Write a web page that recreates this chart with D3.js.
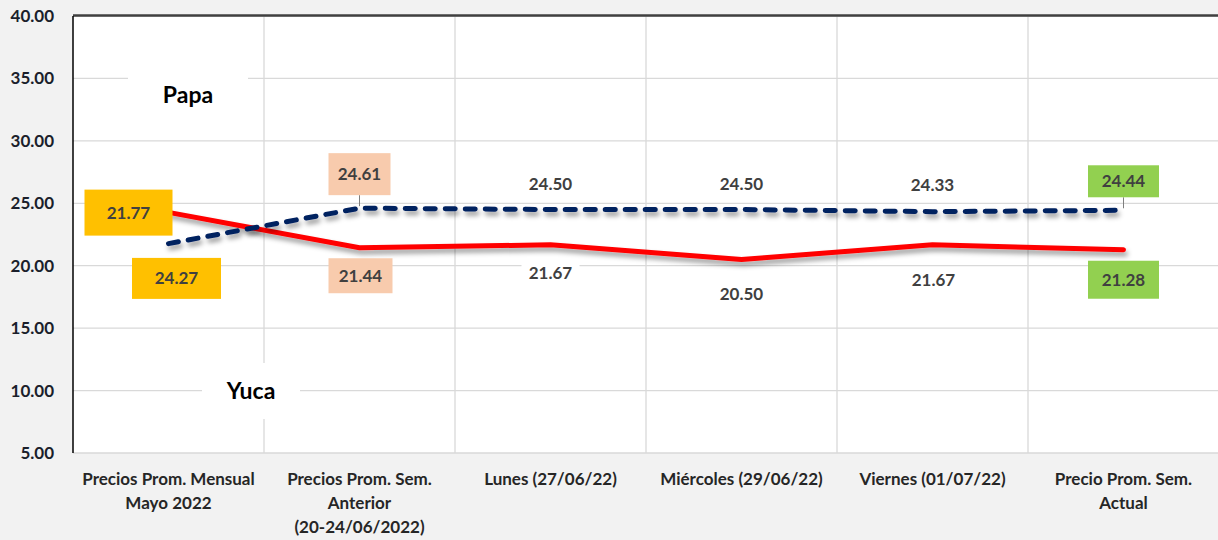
<!DOCTYPE html>
<html>
<head>
<meta charset="utf-8">
<script src="https://cdn.jsdelivr.net/npm/d3@7"></script>
<style>
  html, body { margin: 0; padding: 0; background: #f2f2f2; }
  svg { display: block; }
</style>
</head>
<body>
<div id="area"></div>
<script>
// categorias del eje x (cada una en lineas)
var categories = [
    ["Precios Prom. Mensual", "Mayo 2022"],
    ["Precios Prom. Sem.", "Anterior", "(20-24/06/2022)"],
    ["Lunes  (27/06/22)"],
    ["Miércoles  (29/06/22)"],
    ["Viernes  (01/07/22)"],
    ["Precio Prom. Sem.", "Actual"]
];
var papa = [21.77, 24.61, 24.50, 24.50, 24.33, 24.44];
var yuca = [24.27, 21.44, 21.67, 20.50, 21.67, 21.28];
var yTicks = [5, 10, 15, 20, 25, 30, 35, 40];
var boxColors = ["#FFC000", "#F8CBAD", null, null, null, "#92D050"];

var width = 1218, height = 540;
var margin = { top: 16, right: -1, bottom: 87, left: 73 };

var svg = d3.select("#area")
    .append("svg")
    .attr("width", width)
    .attr("height", height);

var defs = svg.append("defs");
var f = defs.append("filter").attr("id", "sombra")
    .attr("x", "-5%").attr("y", "-50%").attr("width", "110%").attr("height", "200%");
f.append("feDropShadow")
    .attr("dx", 2).attr("dy", 4).attr("stdDeviation", 2.5)
    .attr("flood-color", "#000").attr("flood-opacity", 0.4);

var x = d3.scaleBand()
    .domain(d3.range(categories.length))
    .range([margin.left, width - margin.right])
    .padding(0);
var y = d3.scaleLinear()
    .domain([5, 40])
    .range([height - margin.bottom, margin.top]);

// area del grafico
svg.append("rect")
    .attr("x", margin.left).attr("y", margin.top)
    .attr("width", width - margin.right - margin.left)
    .attr("height", y(5) - margin.top)
    .attr("fill", "#fff");

// lineas de cuadricula
svg.append("g")
    .selectAll("line")
    .data(yTicks)
    .join("line")
    .attr("x1", margin.left).attr("x2", width)
    .attr("y1", d => y(d)).attr("y2", d => y(d))
    .attr("stroke", "#d9d9d9").attr("stroke-width", 1.3);
svg.append("g")
    .selectAll("line")
    .data(d3.range(1, categories.length))
    .join("line")
    .attr("x1", d => x(d)).attr("x2", d => x(d))
    .attr("y1", margin.top).attr("y2", y(5))
    .attr("stroke", "#d9d9d9").attr("stroke-width", 1.3);

// borde superior y eje izquierdo
svg.append("line")
    .attr("x1", margin.left).attr("x2", width)
    .attr("y1", margin.top - 0.5).attr("y2", margin.top - 0.5)
    .attr("stroke", "#404040").attr("stroke-width", 2.5);
svg.append("line")
    .attr("x1", margin.left).attr("x2", margin.left)
    .attr("y1", margin.top).attr("y2", y(5))
    .attr("stroke", "#000").attr("stroke-width", 1.5);

// etiquetas eje y
svg.append("g")
    .selectAll("text")
    .data(yTicks)
    .join("text")
    .attr("x", 54)
    .attr("y", d => y(d) + 6)
    .attr("text-anchor", "end")
    .attr("font-family", "Lato, sans-serif")
    .attr("font-weight", "bold")
    .attr("font-size", 17)
    .attr("fill", "#1b1f2b")
    .text(d => d3.format(".2f")(d));

// etiquetas eje x
var xl = svg.append("g")
    .selectAll("text")
    .data(categories)
    .join("text")
    .attr("text-anchor", "middle")
    .attr("font-family", "Lato, sans-serif")
    .attr("font-weight", "bold")
    .attr("font-size", 17)
    .attr("fill", "#262626");
xl.each(function (lines, i) {
    d3.select(this).selectAll("tspan")
        .data(lines)
        .join("tspan")
        .attr("x", x(i) + x.bandwidth() / 2)
        .attr("y", (d, j) => 485 + j * 24)
        .text(d => d);
});

// nombres Papa / Yuca con fondo blanco
var names = [
    { t: "Papa", cx: 188, cy: 95, w: 120, h: 36 },
    { t: "Yuca", cx: 251, cy: 391, w: 98, h: 56 }
];
names.forEach(function (n) {
    svg.append("rect")
        .attr("x", n.cx - n.w / 2).attr("y", n.cy - n.h / 2)
        .attr("width", n.w).attr("height", n.h)
        .attr("fill", "#fff");
    svg.append("text")
        .attr("x", n.cx).attr("y", n.cy + 8)
        .attr("text-anchor", "middle")
        .attr("font-family", "Lato, sans-serif")
        .attr("font-weight", "bold")
        .attr("font-size", 23)
        .attr("fill", "#000")
        .text(n.t);
});

var cx = i => x(i) + x.bandwidth() / 2;
var line = d3.line().x((d, i) => cx(i)).y(d => y(d));

svg.append("path")
    .datum(yuca)
    .attr("d", line)
    .attr("fill", "none")
    .attr("stroke", "#ff0000")
    .attr("stroke-width", 5)
    .attr("stroke-linejoin", "round")
    .attr("stroke-linecap", "round")
    .attr("filter", "url(#sombra)");

svg.append("path")
    .datum(papa)
    .attr("d", line)
    .attr("fill", "none")
    .attr("stroke", "#002060")
    .attr("stroke-width", 5)
    .attr("stroke-dasharray", "10,10")
    .attr("stroke-linecap", "round")
    .attr("filter", "url(#sombra)");

// posiciones de etiquetas (desplazamiento respecto al punto)
var papaLab = [
    { dx: -40, dy: -31, w: 88, h: 46 },
    { dx: 0, dy: -34, w: 62, h: 42 },
    { dx: 0, dy: -26, w: 56, h: 22 },
    { dx: 0, dy: -26, w: 56, h: 22 },
    { dx: 0, dy: -27, w: 56, h: 22 },
    { dx: 0, dy: -29, w: 71, h: 32 }
];
var yucaLab = [
    { dx: 8, dy: 66, w: 89, h: 41 },
    { dx: 1, dy: 28, w: 64, h: 35 },
    { dx: 0, dy: 28, w: 58, h: 24 },
    { dx: 0, dy: 35, w: 58, h: 24 },
    { dx: 1, dy: 35, w: 80, h: 24 },
    { dx: 0, dy: 30, w: 71, h: 38 }
];

function labels(values, pos, above) {
    var g = svg.append("g");
    values.forEach(function (v, i) {
        var px = cx(i), py = y(v);
        var lx = px + pos[i].dx, ly = py + pos[i].dy;
        var col = boxColors[i];
        if (col && above && i > 0) {
            g.append("line")
                .attr("x1", lx).attr("y1", ly + pos[i].h / 2)
                .attr("x2", px).attr("y2", py - 2)
                .attr("stroke", "#7f7f7f").attr("stroke-width", 1);
        }
        g.append("rect")
            .attr("x", lx - pos[i].w / 2).attr("y", ly - pos[i].h / 2)
            .attr("width", pos[i].w).attr("height", pos[i].h)
            .attr("fill", col || "#fff");
        g.append("text")
            .attr("x", lx).attr("y", ly + 6)
            .attr("text-anchor", "middle")
            .attr("font-family", "Lato, sans-serif")
            .attr("font-weight", "bold")
            .attr("font-size", 17)
            .attr("fill", "#404040")
            .text(d3.format(".2f")(v));
    });
}
labels(papa, papaLab, true);
labels(yuca, yucaLab, false);
</script>
</body>
</html>
